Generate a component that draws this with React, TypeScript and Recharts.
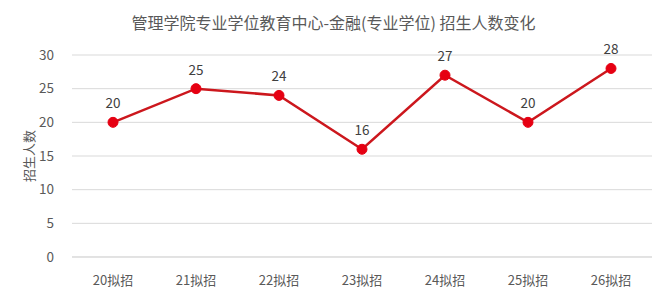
import React from 'react';
import { LineChart, Line, XAxis, YAxis, CartesianGrid, LabelList, Label } from 'recharts';

const years = ['20拟招', '21拟招', '22拟招', '23拟招', '24拟招', '25拟招', '26拟招'];
const enrolment = [20, 25, 24, 16, 27, 20, 28];
const yTicks = [0, 5, 10, 15, 20, 25, 30];

const data = years.map((name, i) => ({ name, value: enrolment[i] }));

const FONT = '"Microsoft YaHei", "Noto Sans CJK SC", sans-serif';

const App: React.FC = () => {
  return (
    <div style={{ position: 'absolute', left: 0, top: 0, width: 667, height: 294, background: '#fff', fontFamily: FONT }}>
      <div style={{ position: 'absolute', top: 11, left: 0, width: 667, textAlign: 'center', fontSize: 16, color: '#595959', lineHeight: '22px' }}>
        管理学院专业学位教育中心-金融(专业学位) 招生人数变化
      </div>
      <LineChart width={667} height={294} data={data} margin={{ top: 55, right: 15, bottom: 7, left: 0 }}>
        <CartesianGrid vertical={false} stroke="#d9d9d9" />
        <XAxis
          dataKey="name"
          height={30}
          padding={{ left: 41, right: 41 }}
          axisLine={{ stroke: '#d9d9d9' }}
          tickLine={false}
          tickMargin={13}
          tick={{ fontSize: 13, fill: '#595959', fontFamily: FONT }}
        />
        <YAxis
          domain={[0, 30]}
          ticks={yTicks}
          axisLine={false}
          tickLine={false}
          tickMargin={12}
          width={72}
          tick={{ fontSize: 13.5, fill: '#595959', fontFamily: FONT }}
        >
          <Label
            value="招生人数"
            angle={-90}
            position="insideLeft"
            offset={29}
            style={{ fontSize: 13, fill: '#595959', fontFamily: FONT, textAnchor: 'middle' }}
          />
        </YAxis>
        <Line
          type="linear"
          dataKey="value"
          stroke="#cc171d"
          strokeWidth={2.5}
          dot={{ r: 5, fill: '#e60012', stroke: '#e60012', strokeWidth: 1 }}
          activeDot={false}
          isAnimationActive={false}
        >
          <LabelList dataKey="value" position="top" offset={14} style={{ fontSize: 13.5, fill: '#404040', fontFamily: FONT }} />
        </Line>
      </LineChart>
    </div>
  );
};

export default App;
